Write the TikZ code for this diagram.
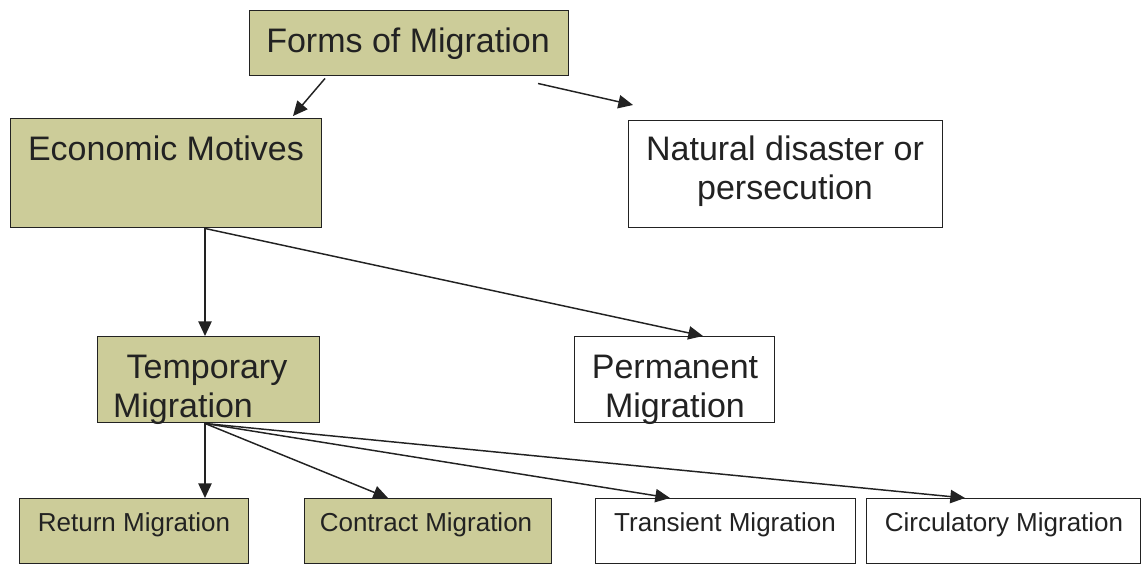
\documentclass[tikz,border=0pt]{standalone}
\usepackage{fontspec}
\setmainfont{Liberation Sans}
\usetikzlibrary{arrows.meta,calc}
\definecolor{khaki}{RGB}{204,204,153}
\definecolor{ink}{RGB}{34,34,34}
\begin{document}
\begin{tikzpicture}[x=0.75pt,y=-0.75pt,
 box/.style={draw=ink,line width=1.1pt,anchor=north west,inner sep=0pt},
 filled/.style={box,fill=khaki},
 plain/.style={box,fill=white},
 big/.style={font=\fontsize{25.5}{30}\selectfont,text=ink,inner sep=0pt,anchor=base},
 small/.style={font=\fontsize{19.5}{24}\selectfont,text=ink,inner sep=0pt,anchor=base},
 arr/.style={draw=ink,line width=1.1pt,-{Triangle[length=11pt,width=10pt]}}]
\useasboundingbox (0,0) rectangle (1142,565);
% boxes
\node[filled,minimum width=239.25pt,minimum height=48.75pt] (forms) at (249,10) {};
\node[filled,minimum width=233.25pt,minimum height=81.75pt] (econ) at (10,118) {};
\node[plain,minimum width=235.5pt,minimum height=80.25pt] (nat) at (628,120) {};
\node[filled,minimum width=166.5pt,minimum height=64.5pt] (temp) at (97,336) {};
\node[plain,minimum width=150pt,minimum height=64.5pt] (perm) at (574,336) {};
\node[filled,minimum width=171.75pt,minimum height=48.75pt] (ret) at (19,498) {};
\node[filled,minimum width=185.25pt,minimum height=48.75pt] (con) at (304,498) {};
\node[plain,minimum width=195pt,minimum height=48.75pt] (tra) at (595,498) {};
\node[plain,minimum width=205.5pt,minimum height=48.75pt] (cir) at (866,498) {};
% connector points
\coordinate (f1) at ($(forms.south west)+(76,2)$);
\coordinate (e1) at ($(econ.north west)+(283,-2)$);
\coordinate (f2) at ($(forms.south west)+(289,7)$);
\coordinate (n1) at ($(nat.north west)+(5,-15)$);
\coordinate (e0) at ($(econ.south west)+(195,0)$);
\coordinate (t1) at ($(temp.north west)+(108,0)$);
\coordinate (p1) at ($(perm.north west)+(129,0)$);
\coordinate (t0) at ($(temp.south west)+(108,0)$);
\coordinate (r1) at ($(ret.north west)+(186,0)$);
\coordinate (c1) at ($(con.north west)+(84,0)$);
\coordinate (s1) at ($(tra.north west)+(75,0)$);
\coordinate (q1) at ($(cir.north west)+(99,0)$);
% connectors
\draw[arr] (f1) -- (e1);
\draw[arr] (f2) -- (n1);
\draw[arr] (e0) -- (t1);
\draw[arr] (e0) -- (p1);
\draw[arr] (t0) -- (r1);
\draw[arr] (t0) -- (c1);
\draw[arr] (t0) -- (s1);
\draw[arr] (t0) -- (q1);
% texts
\node[big] (tforms) at (408,52) {Forms of Migration};
\node[big] (tecon) at (166,160) {Economic Motives};
\node[big] (tnat1) at (785,160) {Natural disaster or};
\node[big] (tnat2) at (785,199) {persecution};
\node[big] (ttemp1) at (207,378) {Temporary};
\node[big] (ttemp2) at (183,417) {Migration};
\node[big] (tperm1) at (675,378) {Permanent};
\node[big] (tperm2) at (675,417) {Migration};
\node[small] (tret) at (134,531) {Return Migration};
\node[small] (tcon) at (426,531) {Contract Migration};
\node[small] (ttra) at (725,531) {Transient Migration};
\node[small] (tcir) at (1004,531) {Circulatory Migration};
\end{tikzpicture}
\end{document}
